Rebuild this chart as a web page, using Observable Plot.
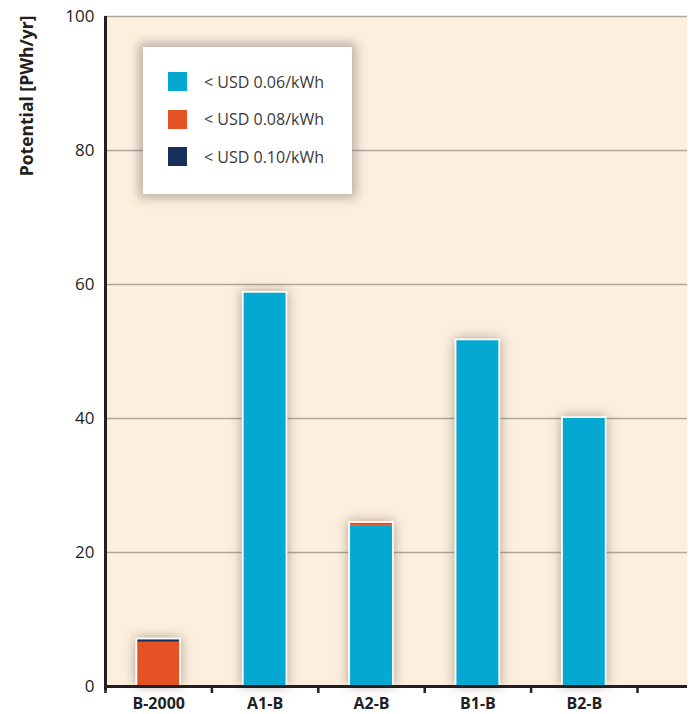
<!DOCTYPE html>
<html>
<head>
<meta charset="utf-8">
<script src="https://cdn.jsdelivr.net/npm/d3@7"></script>
<script src="https://cdn.jsdelivr.net/npm/@observablehq/plot@0.6"></script>
<style>
  html, body { margin: 0; padding: 0; background: #ffffff; overflow: hidden; }
  #wrap { position: relative; width: 691px; height: 714px; font-family: "Open Sans", sans-serif; }
  #legend { position: absolute; left: 143px; top: 47px; width: 209px; height: 147px; background: #ffffff;
            box-shadow: 0 0 10px 4px rgba(110, 95, 95, 0.45); }
  .row { position: absolute; left: 25px; height: 19px; display: flex; align-items: center; }
  .sw { width: 19px; height: 19px; margin-right: 17px; }
  .lab { font-size: 16px; color: #3a3a3a; white-space: nowrap; }
</style>
</head>
<body>
<div id="wrap"></div>
<script>
const categories = ["B-2000", "A1-B", "A2-B", "B1-B", "B2-B"];
const seriesNames = ["< USD 0.06/kWh", "< USD 0.08/kWh", "< USD 0.10/kWh"];
const usd006 = [0, 58.7, 23.9, 51.6, 40.0];
const usd008 = [6.6, 0, 0.45, 0, 0];
const usd010 = [0.35, 0, 0, 0, 0];
const seriesColors = ["#05a8d1", "#e55325", "#182e5b"];
const yTicks = [0, 20, 40, 60, 80, 100];
const yTitle = "Potential [PWh/yr]";

const seriesValues = [usd006, usd008, usd010];
const half = 0.197;

// stacked table
const table = [];
const totals = [];
categories.forEach((c, i) => {
  let acc = 0;
  seriesValues.forEach((arr, j) => {
    const v = arr[i];
    if (v > 0) table.push({category: c, index: i, series: seriesNames[j], y1: acc, y2: acc + v});
    acc += v;
  });
  totals.push({category: c, index: i, total: acc});
});
const boundaries = d3.range(categories.length + 1);

const chart = Plot.plot({
  width: 691,
  height: 714,
  marginLeft: 105,
  marginRight: 4,
  marginTop: 16,
  marginBottom: 28,
  style: {fontFamily: "'Open Sans', sans-serif", background: "transparent", overflow: "visible"},
  x: {type: "linear", domain: [0, categories.length], range: [105, 637], axis: null},
  y: {domain: [0, 100], axis: null},
  color: {domain: seriesNames, range: seriesColors},
  marks: [
    Plot.frame({fill: "#fcefde", stroke: null}),
    Plot.ruleY(yTicks.filter(d => d > 0), {y: d => d, stroke: "#aca69f", strokeWidth: 1.5}),
    Plot.rectY(totals, {x1: d => d.index + 0.5 - half, x2: d => d.index + 0.5 + half, y: "total",
      fill: "white", insetLeft: -1.8, insetRight: -1.8, insetTop: -1.8}),
    Plot.rectY(table, {x1: d => d.index + 0.5 - half, x2: d => d.index + 0.5 + half, y1: "y1", y2: "y2", fill: "series"}),
    Plot.ruleX(boundaries, {x: d => d, y1: 0, y2: 0, insetBottom: -7, stroke: "#231f20", strokeWidth: 2.5}),
    Plot.ruleY([0], {stroke: "#231f20", strokeWidth: 3}),
    Plot.ruleX([0], {stroke: "#231f20", strokeWidth: 3, insetBottom: -4}),
    Plot.text(yTicks, {y: d => d, text: d => String(d), frameAnchor: "left", dx: -11, textAnchor: "end",
      fontSize: 17, fill: "#231f20"}),
    Plot.text(categories, {x: (d, i) => i + 0.5, text: d => d, frameAnchor: "bottom", dy: 17, lineAnchor: "middle",
      fontSize: 16, fontWeight: "bold", fill: "#231f20"}),
    Plot.text([yTitle], {text: d => d, frameAnchor: "top-left", dx: -78, dy: -1, rotate: -90, textAnchor: "end",
      lineAnchor: "middle", fontSize: 17.5, fontWeight: "bold", fill: "#231f20"})
  ]
});

// soft shadow around the bars
const rectGroups = chart.querySelectorAll('g[aria-label="rect"]');
if (rectGroups.length) rectGroups[0].style.filter = "drop-shadow(0 0 6px rgba(100, 80, 60, 0.5))";

const wrap = document.getElementById("wrap");
wrap.appendChild(chart);

const legend = document.createElement("div");
legend.id = "legend";
seriesNames.forEach((name, j) => {
  const row = document.createElement("div");
  row.className = "row";
  row.style.top = (25 + j * 37.5) + "px";
  const sw = document.createElement("div");
  sw.className = "sw";
  sw.style.background = seriesColors[j];
  const lab = document.createElement("span");
  lab.className = "lab";
  lab.textContent = name;
  row.appendChild(sw);
  row.appendChild(lab);
  legend.appendChild(row);
});
wrap.appendChild(legend);
</script>
</body>
</html>
